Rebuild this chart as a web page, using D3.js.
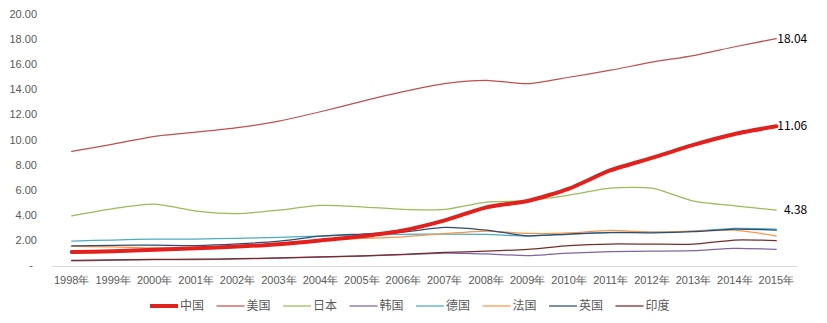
<!DOCTYPE html>
<html>
<head>
<meta charset="utf-8">
<script src="https://cdn.jsdelivr.net/npm/d3@7"></script>
<style>
html,body{margin:0;padding:0;background:#fff;}
svg{display:block;font-family:"Microsoft YaHei","Noto Sans CJK SC","Noto Sans",sans-serif;}
</style>
</head>
<body>
<svg id="chart" width="827" height="323"></svg>
<script>
const years = ["1998年","1999年","2000年","2001年","2002年","2003年","2004年","2005年","2006年","2007年","2008年","2009年","2010年","2011年","2012年","2013年","2014年","2015年"];
const yTicks = [0,2,4,6,8,10,12,14,16,18,20];

const china   = [1.03,1.09,1.21,1.34,1.47,1.66,1.96,2.29,2.75,3.55,4.59,5.10,6.09,7.55,8.53,9.57,10.44,11.06];
const usa     = [9.06,9.63,10.25,10.58,10.94,11.46,12.21,13.04,13.81,14.45,14.71,14.45,14.96,15.52,16.16,16.69,17.39,18.04];
const japan   = [3.92,4.50,4.85,4.30,4.10,4.37,4.75,4.64,4.43,4.43,5.01,5.12,5.57,6.12,6.12,5.09,4.72,4.38];
const korea   = [0.32,0.38,0.42,0.42,0.48,0.55,0.62,0.70,0.82,0.95,0.88,0.75,0.95,1.06,1.10,1.14,1.33,1.25];
const germany = [1.91,1.99,2.07,2.07,2.12,2.20,2.31,2.39,2.45,2.47,2.45,2.31,2.45,2.60,2.62,2.70,2.92,2.86];
const france  = [1.48,1.44,1.36,1.38,1.48,1.75,2.00,2.12,2.25,2.50,2.70,2.52,2.55,2.75,2.62,2.70,2.78,2.31];
const uk      = [1.52,1.57,1.58,1.55,1.68,1.90,2.30,2.47,2.62,3.00,2.78,2.33,2.47,2.58,2.56,2.65,2.86,2.78];
const india   = [0.36,0.40,0.44,0.46,0.50,0.57,0.65,0.72,0.85,1.00,1.10,1.25,1.54,1.67,1.66,1.66,1.99,1.95];

const seriesNames  = ["中国","美国","日本","韩国","德国","法国","英国","印度"];
const seriesValues = [china, usa, japan, korea, germany, france, uk, india];
const seriesColors = ["#e3211c","#c0504d","#9bbb59","#8064a2","#4bacc6","#f79646","#2c4d75","#772c2a"];
const seriesWidths = [4,1.25,1.25,1.25,1.25,1.25,1.25,1.25];
const labeled = ["美国","中国","日本"];

const svg = d3.select("#chart");
svg.append("rect").attr("width",827).attr("height",323).attr("fill","#fff");

const x = d3.scaleBand().domain(years).range([51,797]).padding(0);
const cx = d => x(d) + x.bandwidth()/2;
const y = d3.scaleLinear().domain([0,20]).range([265,14]);

// axes
const xAxis = svg.append("g").attr("transform","translate(0,266)")
  .call(d3.axisBottom(x).tickSize(0).tickPadding(10));
xAxis.select(".domain").attr("stroke","#d9d9d9").attr("stroke-width",1);
xAxis.selectAll("text").attr("fill","#595959").attr("font-size","11px");

const yAxis = svg.append("g").attr("transform","translate(40,0)")
  .call(d3.axisLeft(y).tickValues(yTicks).tickSize(0).tickPadding(3)
    .tickFormat(d => d === 0 ? "-" : d.toFixed(2)));
yAxis.select(".domain").remove();
yAxis.selectAll("text").attr("fill","#595959").attr("font-size","11px")
  .attr("dx", d => d === 0 ? -4 : 0);

// lines (draw China last so it is on top)
const line = d3.line().x((d,i) => cx(years[i])).y(d => y(d)).curve(d3.curveCardinal.tension(0.35));
const order = [1,2,3,4,5,6,7,0];
order.forEach(k => {
  svg.append("path").datum(seriesValues[k])
    .attr("fill","none").attr("stroke",seriesColors[k])
    .attr("stroke-width",seriesWidths[k]).attr("stroke-linejoin","round").attr("stroke-linecap","round")
    .attr("d",line);
});

// end labels
labeled.forEach(name => {
  const k = seriesNames.indexOf(name);
  const vals = seriesValues[k];
  const last = vals[vals.length-1];
  svg.append("text").attr("x", cx(years[years.length-1]) + 31).attr("y", y(last))
    .attr("dy","0.35em").attr("text-anchor","end").attr("font-size","12px").attr("fill","#000")
    .text(last.toFixed(2));
});

// legend
const leg = svg.append("g").attr("transform","translate(150,306)");
seriesNames.forEach((n,i) => {
  const g = leg.append("g").attr("transform",`translate(${i*66.5},0)`);
  g.append("line").attr("x1",0).attr("x2",28).attr("y1",0).attr("y2",0)
    .attr("stroke",seriesColors[i]).attr("stroke-width",seriesWidths[i]);
  g.append("text").attr("x",30).attr("y",0).attr("dy","0.35em")
    .attr("font-size","12px").attr("fill","#595959").text(n);
});
</script>
</body>
</html>
